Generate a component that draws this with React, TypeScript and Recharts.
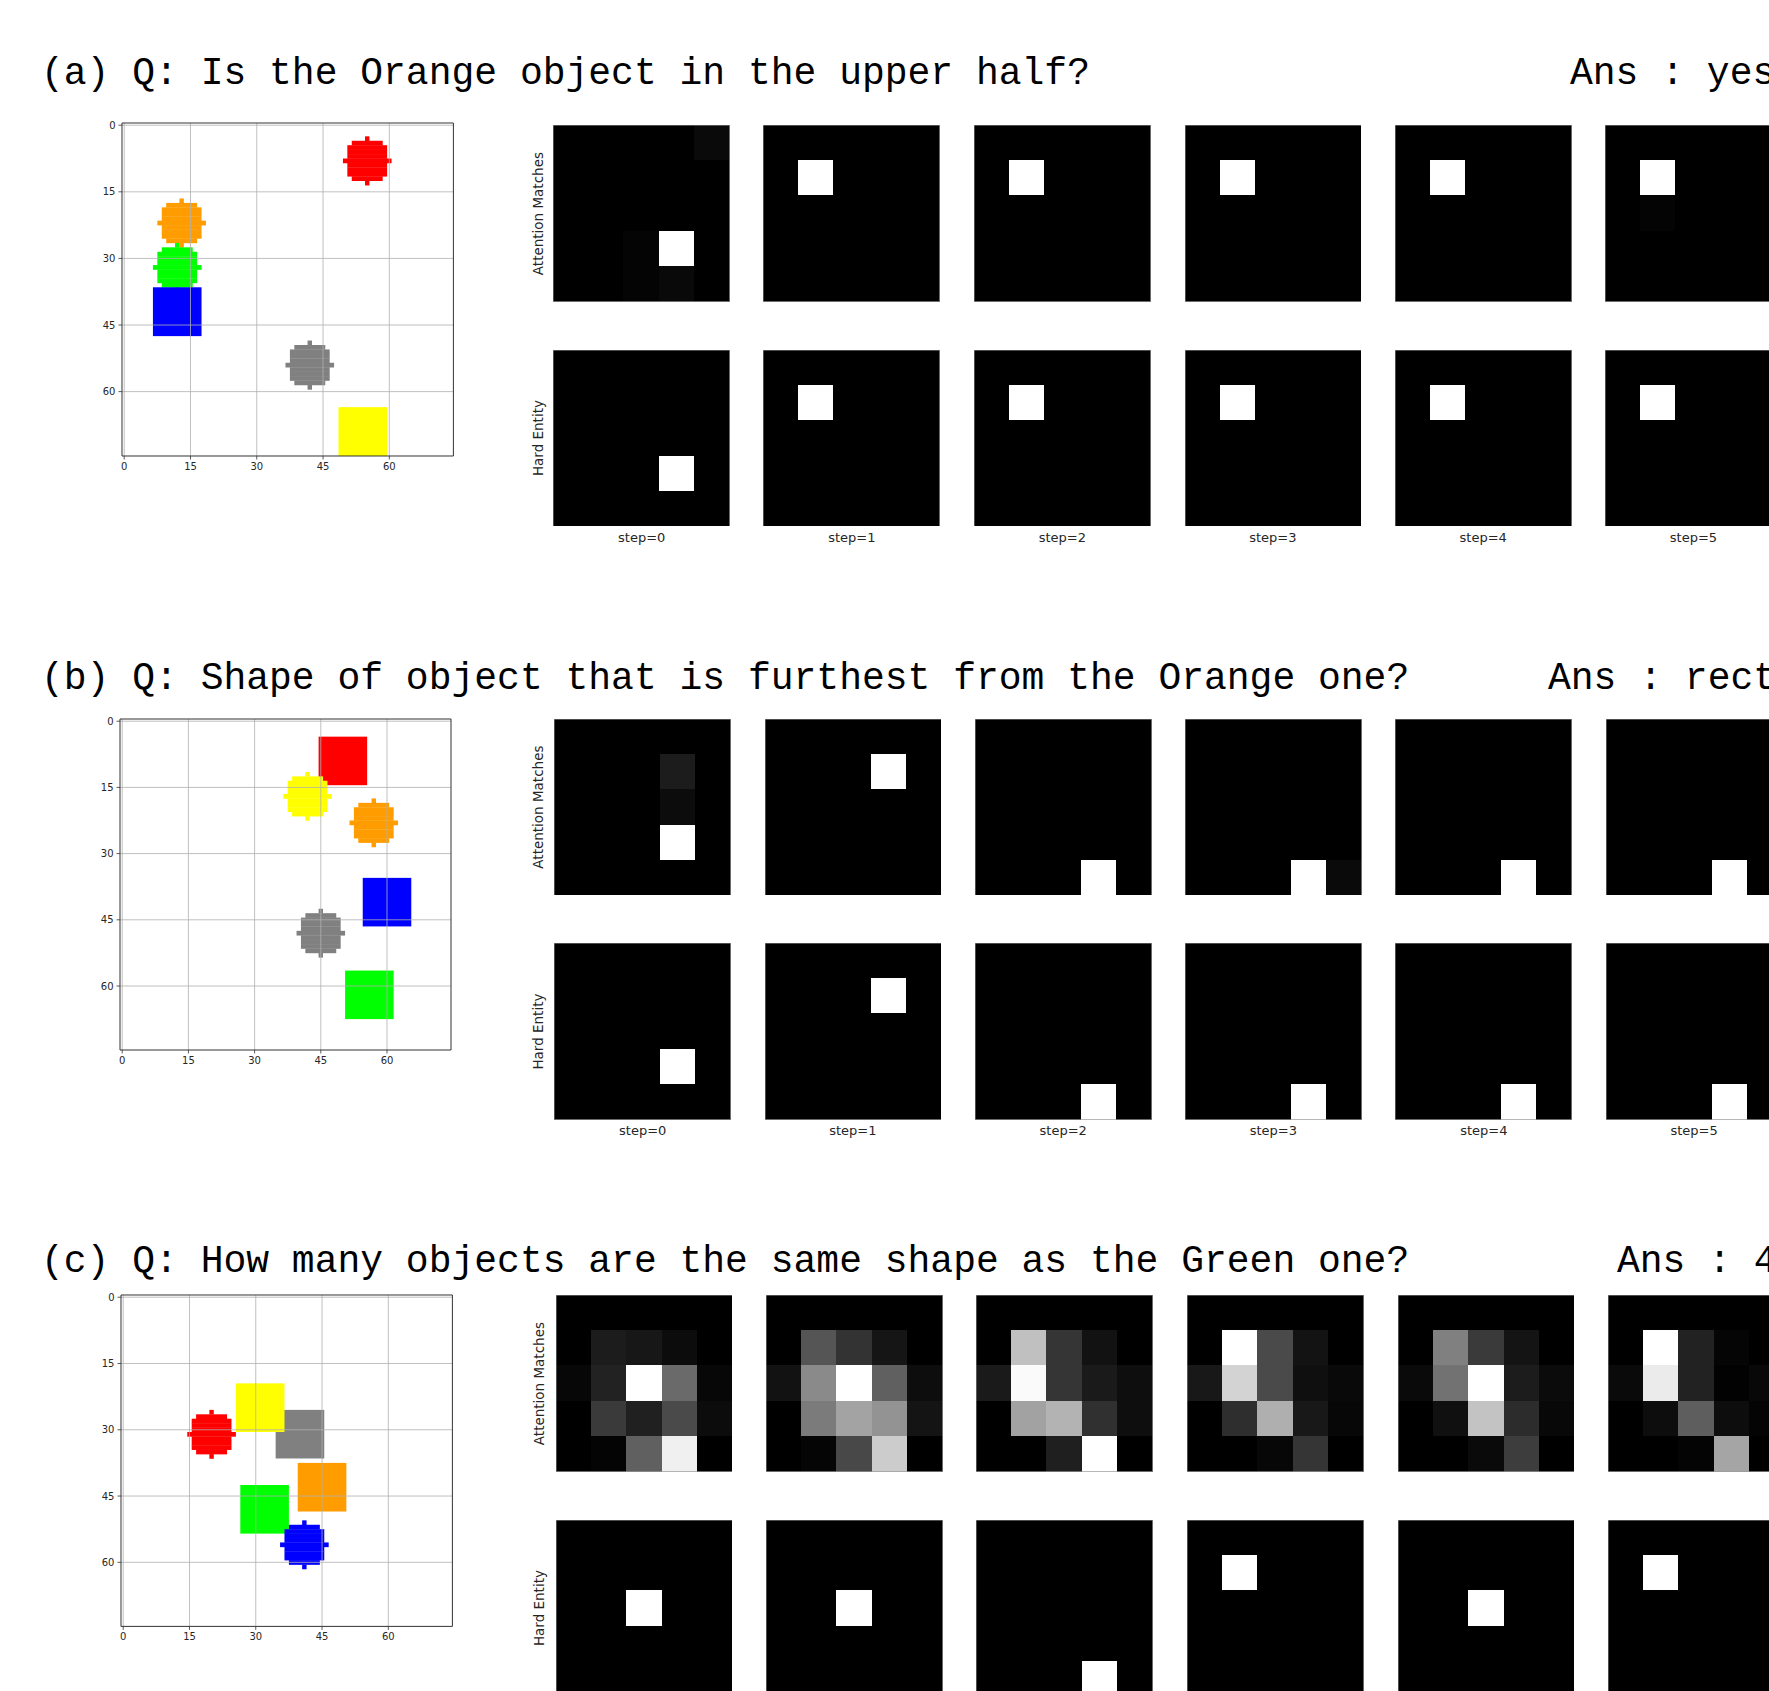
import React from 'react';
import { ScatterChart, Scatter, XAxis, YAxis, ReferenceArea, ReferenceLine } from 'recharts';

// ---- text ----
const QUESTIONS = [
  '(a) Q: Is the Orange object in the upper half?',
  '(b) Q: Shape of object that is furthest from the Orange one?',
  '(c) Q: How many objects are the same shape as the Green one?',
];
const ANSWERS = ['Ans : yes', 'Ans : rect', 'Ans : 4'];
const STEP_LABELS = ['step=0', 'step=1', 'step=2', 'step=3', 'step=4', 'step=5'];
const ROW_LABELS = ['Attention Matches', 'Hard Entity'];
const TICKS = [0, 15, 30, 45, 60];

// ---- scenes: object centre in pixels of the 75x75 image ----
const sceneA = [
  { x: 55, y: 8, shape: 'circle', color: 'red' },
  { x: 13, y: 22, shape: 'circle', color: 'orange' },
  { x: 12, y: 32, shape: 'circle', color: 'green' },
  { x: 12, y: 42, shape: 'square', color: 'blue' },
  { x: 42, y: 54, shape: 'circle', color: 'gray' },
  { x: 54, y: 69, shape: 'square', color: 'yellow' },
];
const sceneB = [
  { x: 50, y: 9, shape: 'square', color: 'red' },
  { x: 42, y: 17, shape: 'circle', color: 'yellow' },
  { x: 57, y: 23, shape: 'circle', color: 'orange' },
  { x: 60, y: 41, shape: 'square', color: 'blue' },
  { x: 45, y: 48, shape: 'circle', color: 'gray' },
  { x: 56, y: 62, shape: 'square', color: 'green' },
];
const sceneC = [
  { x: 40, y: 31, shape: 'square', color: 'gray' },
  { x: 31, y: 25, shape: 'square', color: 'yellow' },
  { x: 20, y: 31, shape: 'circle', color: 'red' },
  { x: 45, y: 43, shape: 'square', color: 'orange' },
  { x: 32, y: 48, shape: 'square', color: 'green' },
  { x: 41, y: 56, shape: 'circle', color: 'blue' },
];

// ---- attention maps (5x5, grey level 0-255), one per step ----
const attnA = [
  [[0, 0, 0, 0, 10], [0, 0, 0, 0, 0], [0, 0, 0, 0, 0], [0, 0, 4, 255, 0], [0, 0, 4, 9, 0]],
  [[0, 0, 0, 0, 0], [0, 255, 0, 0, 0], [0, 0, 0, 0, 0], [0, 0, 0, 0, 0], [0, 0, 0, 0, 0]],
  [[0, 0, 0, 0, 0], [0, 255, 0, 0, 0], [0, 0, 0, 0, 0], [0, 0, 0, 0, 0], [0, 0, 0, 0, 0]],
  [[0, 0, 0, 0, 0], [0, 255, 0, 0, 0], [0, 0, 0, 0, 0], [0, 0, 0, 0, 0], [0, 0, 0, 0, 0]],
  [[0, 0, 0, 0, 0], [0, 255, 0, 0, 0], [0, 0, 0, 0, 0], [0, 0, 0, 0, 0], [0, 0, 0, 0, 0]],
  [[0, 0, 0, 0, 0], [0, 255, 0, 0, 0], [0, 4, 0, 0, 0], [0, 0, 0, 0, 0], [0, 0, 0, 0, 0]],
];
const attnB = [
  [[0, 0, 0, 0, 0], [0, 0, 0, 28, 0], [0, 0, 0, 12, 0], [0, 0, 0, 255, 0], [0, 0, 0, 0, 0]],
  [[0, 0, 0, 0, 0], [0, 0, 0, 255, 0], [0, 0, 0, 0, 0], [0, 0, 0, 0, 0], [0, 0, 0, 0, 0]],
  [[0, 0, 0, 0, 0], [0, 0, 0, 0, 0], [0, 0, 0, 0, 0], [0, 0, 0, 0, 0], [0, 0, 0, 255, 0]],
  [[0, 0, 0, 0, 0], [0, 0, 0, 0, 0], [0, 0, 0, 0, 0], [0, 0, 0, 0, 0], [0, 0, 0, 255, 10]],
  [[0, 0, 0, 0, 0], [0, 0, 0, 0, 0], [0, 0, 0, 0, 0], [0, 0, 0, 0, 0], [0, 0, 0, 255, 0]],
  [[0, 0, 0, 0, 0], [0, 0, 0, 0, 0], [0, 0, 0, 0, 0], [0, 0, 0, 0, 0], [0, 0, 0, 255, 0]],
];
const attnC = [
  [[0, 0, 0, 0, 0], [0, 28, 23, 12, 0], [7, 34, 255, 106, 7], [0, 58, 32, 74, 12], [0, 4, 96, 240, 0]],
  [[0, 0, 0, 0, 0], [0, 85, 51, 21, 0], [18, 138, 255, 96, 13], [0, 123, 163, 147, 20], [0, 5, 72, 204, 0]],
  [[0, 0, 0, 0, 0], [0, 192, 53, 18, 0], [26, 250, 53, 26, 14], [0, 162, 179, 48, 14], [0, 0, 31, 255, 0]],
  [[0, 0, 0, 0, 0], [0, 255, 74, 19, 0], [24, 211, 74, 15, 9], [0, 46, 175, 24, 7], [0, 0, 7, 53, 0]],
  [[0, 0, 0, 0, 0], [0, 128, 58, 20, 0], [10, 114, 255, 28, 11], [0, 16, 195, 44, 8], [0, 0, 10, 61, 0]],
  [[0, 0, 0, 0, 0], [0, 255, 34, 5, 0], [10, 235, 34, 2, 8], [0, 13, 94, 13, 4], [0, 0, 4, 165, 0]],
];

// ---- hard entity: the single selected cell [row, col] per step ----
const hardA = [[3, 3], [1, 1], [1, 1], [1, 1], [1, 1], [1, 1]];
const hardB = [[3, 3], [1, 3], [4, 3], [4, 3], [4, 3], [4, 3]];
const hardC = [[2, 2], [2, 2], [4, 3], [1, 1], [2, 2], [1, 1]];

const COLORS: Record<string, string> = {
  red: '#ff0000',
  orange: '#ff9c00',
  green: '#00ff00',
  blue: '#0000ff',
  gray: '#808080',
  yellow: '#ffff00',
};

const W = 1769;
const H = 1691;
const IMG = 75; // image is 75x75 pixels
const OBJ_R = 5; // disc radius / square half side in image pixels
const PANEL = 176.8;
const TITLE_FONT = 38;
const TICK_FONT = { fontSize: 10, fill: '#262626', fontFamily: 'DejaVu Sans' };

// page layout per row
const LAYOUT = [
  {
    titleY: 83.5, ansX: 1570,
    scene: { left: 121.8, top: 122.5, w: 331.4, h: 333 },
    panelX: [553.3, 763.4, 973.9, 1184.5, 1394.8, 1605.1],
    topY: 125.2, botY: 349.7, labelX: 538,
  },
  {
    titleY: 689, ansX: 1548,
    scene: { left: 120, top: 719, w: 331, h: 331 },
    panelX: [554.3, 764.5, 974.8, 1185, 1395.4, 1605.7],
    topY: 718.7, botY: 943.2, labelX: 538,
  },
  {
    titleY: 1271.5, ansX: 1617,
    scene: { left: 121, top: 1295.3, w: 331.4, h: 331.4 },
    panelX: [555.5, 765.9, 976.4, 1186.8, 1397.7, 1608.2],
    topY: 1295.2, botY: 1519.7, labelX: 539,
  },
];

const ROWS = [
  { scene: sceneA, attn: attnA, hard: hardA },
  { scene: sceneB, attn: attnB, hard: hardB },
  { scene: sceneC, attn: attnC, hard: hardC },
];

function Scene({ objects, box }: any) {
  const ML = 40, MT = 10, MR = 10, MB = 30;
  const ux = box.w / IMG;
  const uy = box.h / IMG;

  const drawObject = (p: any) => {
    const { cx, cy, payload } = p;
    const fill = COLORS[payload.color];
    if (payload.shape === 'square') {
      const s = OBJ_R + 0.5;
      return <rect x={cx - s * ux} y={cy - s * uy} width={2 * s * ux} height={2 * s * uy} fill={fill} />;
    }
    // pixelated disc, one rect per pixel row
    const rows = [];
    for (let dy = -OBJ_R; dy <= OBJ_R; dy++) {
      const hw = Math.floor(Math.sqrt(OBJ_R * OBJ_R - dy * dy)) + 0.5;
      rows.push(
        <rect key={dy} x={cx - hw * ux} y={cy + (dy - 0.5) * uy} width={2 * hw * ux} height={uy + 0.3} fill={fill} />
      );
    }
    return <g>{rows}</g>;
  };

  return (
    <div style={{ position: 'absolute', left: box.left - ML, top: box.top - MT }}>
      <ScatterChart width={box.w + ML + MR} height={box.h + MT + MB} margin={{ top: MT, right: MR, bottom: 0, left: 0 }}>
        <XAxis
          type="number" dataKey="x" domain={[-0.5, IMG - 0.5]} ticks={TICKS} interval={0}
          allowDataOverflow height={MB} axisLine={false} tickSize={3.5} tickMargin={3}
          tickLine={{ stroke: '#333', strokeWidth: 0.8 }} tick={TICK_FONT}
        />
        <YAxis
          type="number" dataKey="y" domain={[-0.5, IMG - 0.5]} ticks={TICKS} interval={0} reversed
          allowDataOverflow width={ML} axisLine={false} tickSize={3.5} tickMargin={3}
          tickLine={{ stroke: '#333', strokeWidth: 0.8 }} tick={TICK_FONT}
        />
        <Scatter data={objects} shape={drawObject} isAnimationActive={false} />
        {TICKS.map((t) => (
          <ReferenceLine key={`gx${t}`} x={t} stroke="#b0b0b0" strokeWidth={0.8} zIndex={700} />
        ))}
        {TICKS.map((t) => (
          <ReferenceLine key={`gy${t}`} y={t} stroke="#b0b0b0" strokeWidth={0.8} zIndex={700} />
        ))}
        <ReferenceArea x1={-0.5} x2={IMG - 0.5} y1={-0.5} y2={IMG - 0.5} fill="none" stroke="#333" strokeWidth={1} zIndex={700} />
      </ScatterChart>
    </div>
  );
}

function toCells(grid: number[][]) {
  const cells: { x: number; y: number; v: number }[] = [];
  grid.forEach((row, r) => row.forEach((v, c) => cells.push({ x: c + 0.5, y: r + 0.5, v })));
  return cells;
}

function hardGrid(cell: number[]) {
  return [0, 1, 2, 3, 4].map((r) => [0, 1, 2, 3, 4].map((c) => (r === cell[0] && c === cell[1] ? 255 : 0)));
}

function Heat({ grid, left, top }: any) {
  const cw = PANEL / 5;
  const drawCell = (p: any) => {
    const v = p.payload.v;
    return (
      <rect
        x={p.cx - cw / 2 - 0.5} y={p.cy - cw / 2 - 0.5} width={cw + 1} height={cw + 1}
        fill={`rgb(${v},${v},${v})`} shapeRendering="crispEdges"
      />
    );
  };
  return (
    <div style={{ position: 'absolute', left, top }}>
      <ScatterChart width={PANEL} height={PANEL} margin={{ top: 0, right: 0, bottom: 0, left: 0 }}>
        <XAxis type="number" dataKey="x" domain={[0, 5]} hide />
        <YAxis type="number" dataKey="y" domain={[0, 5]} reversed hide />
        <Scatter data={toCells(grid)} shape={drawCell} isAnimationActive={false} />
        <ReferenceArea x1={0} x2={5} y1={0} y2={5} fill="none" stroke="#9a9a9a" strokeWidth={1} zIndex={700} />
      </ScatterChart>
    </div>
  );
}

export default function App() {
  return (
    <div style={{ position: 'absolute', left: 0, top: 0, width: W, height: H, overflow: 'hidden', background: '#fff' }}>
      <svg width={W} height={H} style={{ position: 'absolute', left: 0, top: 0 }}>
        {LAYOUT.map((L, i) => (
          <g key={i}>
            <text x={41} y={L.titleY} fontFamily="Liberation Mono" fontSize={TITLE_FONT} fill="#000">{QUESTIONS[i]}</text>
            <text x={L.ansX} y={L.titleY} fontFamily="Liberation Mono" fontSize={TITLE_FONT} fill="#000">{ANSWERS[i]}</text>
            {[L.topY, L.botY].map((y, k) => (
              <text
                key={k}
                transform={`translate(${L.labelX},${y + PANEL / 2}) rotate(-90)`}
                textAnchor="middle" dominantBaseline="central"
                fontFamily="DejaVu Sans" fontSize={13.5} fill="#262626"
              >
                {ROW_LABELS[k]}
              </text>
            ))}
            {L.botY + PANEL + 15 < H &&
              L.panelX.map((x, s) => (
                <text key={s} x={x + PANEL / 2} y={L.botY + PANEL + 15} textAnchor="middle" fontFamily="DejaVu Sans" fontSize={13} fill="#262626">
                  {STEP_LABELS[s]}
                </text>
              ))}
          </g>
        ))}
      </svg>
      {ROWS.map((R, i) => {
        const L = LAYOUT[i];
        return (
          <React.Fragment key={i}>
            <Scene objects={R.scene} box={L.scene} />
            {L.panelX.map((x, s) => (
              <Heat key={`t${s}`} grid={R.attn[s]} left={x} top={L.topY} />
            ))}
            {L.panelX.map((x, s) => (
              <Heat key={`b${s}`} grid={hardGrid(R.hard[s])} left={x} top={L.botY} />
            ))}
          </React.Fragment>
        );
      })}
    </div>
  );
}
